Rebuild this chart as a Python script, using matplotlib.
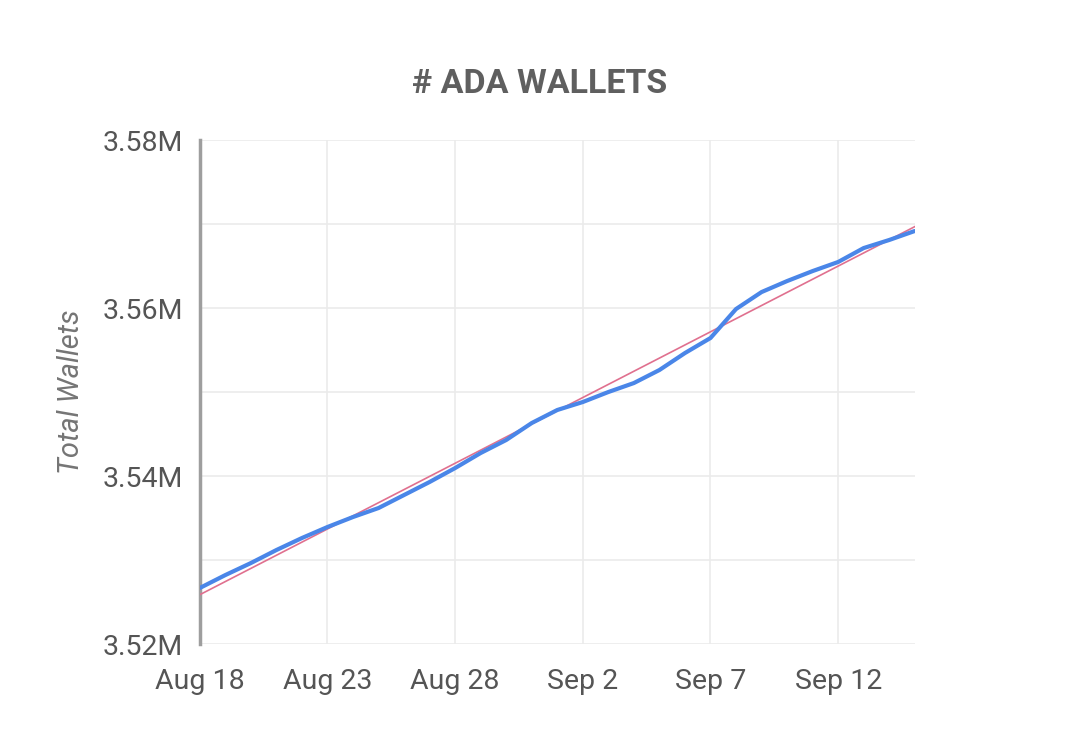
import numpy as np
import matplotlib
matplotlib.use("Agg")
import matplotlib.pyplot as plt
import matplotlib.dates as mdates
from matplotlib.ticker import FuncFormatter, MultipleLocator

# daily totals, Aug 18 .. Sep 15
dates = np.arange(np.datetime64("2020-08-18"), np.datetime64("2020-09-16"))
wallets = [3526670, 3528210, 3529640, 3531190, 3532620, 3533930, 3535120,
           3536190, 3537740, 3539290, 3540950, 3542740, 3544290, 3546310,
           3547860, 3548810, 3550000, 3551070, 3552620, 3554640, 3556430,
           3559880, 3561900, 3563210, 3564400, 3565480, 3567140, 3568100,
           3569170]
tick_dates = ["2020-08-18", "2020-08-23", "2020-08-28",
              "2020-09-02", "2020-09-07", "2020-09-12"]
tick_labels = ["Aug 18", "Aug 23", "Aug 28", "Sep 2", "Sep 7", "Sep 12"]

plt.rcParams['font.family'] = ['Roboto', 'DejaVu Sans']

fig = plt.figure(figsize=(10.8, 7.46), dpi=100)
ax = fig.add_axes([0.185, 0.1367, 0.662, 0.6756])

x = mdates.date2num(dates.astype("datetime64[D]").astype(object))
y = np.array(wallets)

# linear trendline
k, b = np.polyfit(x - x[0], y, 1)
ax.plot(x, k * (x - x[0]) + b, color="#e0708f", lw=1.2, zorder=3)
ax.plot(x, y, color="#4a86e8", lw=3.0, zorder=4, solid_capstyle="round")

ax.set_xlim(x[0], x[-1])
ax.set_ylim(3520000, 3580000)

tx = [mdates.datestr2num(d) for d in tick_dates]
ax.set_xticks(tx)
ax.set_xticklabels(tick_labels)
ax.yaxis.set_major_locator(MultipleLocator(20000))
ax.yaxis.set_minor_locator(MultipleLocator(10000))
ax.yaxis.set_major_formatter(FuncFormatter(lambda v, p: f"{v/1e6:.2f}M"))

ax.grid(True, which="both", axis="y", color="#ebebeb", lw=1.2)
ax.grid(True, which="major", axis="x", color="#ebebeb", lw=1.2)
ax.set_axisbelow(True)

for s in ["top", "right", "bottom"]:
    ax.spines[s].set_visible(False)
ax.spines["left"].set_color("#9e9e9e")
ax.spines["left"].set_linewidth(2.5)

ax.tick_params(axis="both", which="both", length=0, labelsize=20.5,
               labelcolor="#555555")
ax.tick_params(axis="x", pad=17)
ax.tick_params(axis="y", pad=12)

ax.set_ylabel("Total Wallets", fontsize=21, style="italic", color="#757575")
ax.yaxis.set_label_coords(-0.16, 0.5)
fig.text(0.5, 0.887, "# ADA WALLETS", ha="center", va="center",
         fontsize=24.5, fontweight="bold", color="#5f5f5f")

fig.savefig("out.png", dpi=100, facecolor="white")
